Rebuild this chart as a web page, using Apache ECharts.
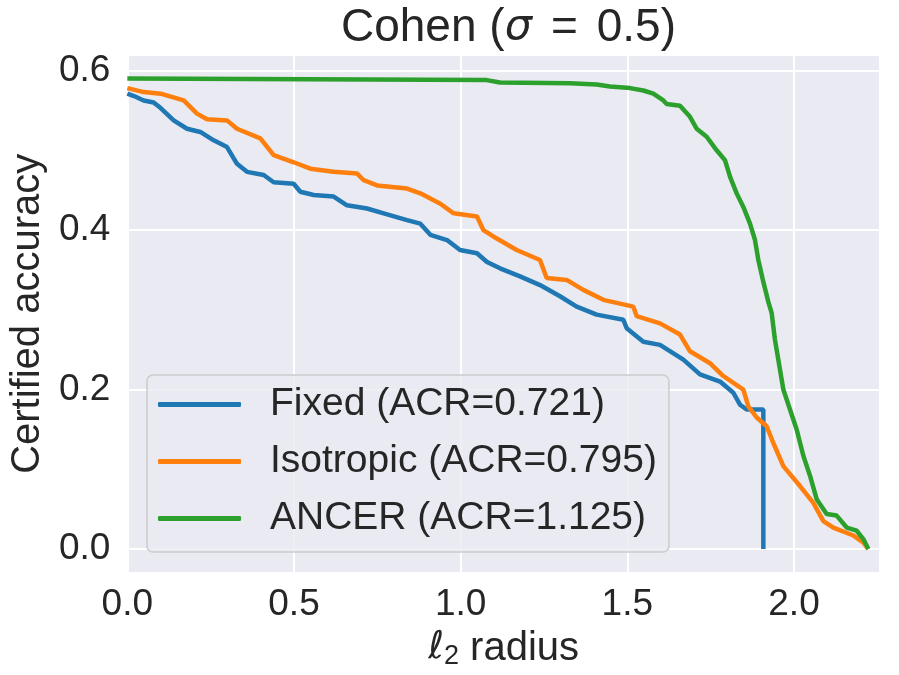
<!DOCTYPE html>
<html>
<head>
<meta charset="utf-8">
<script src="https://cdn.jsdelivr.net/npm/echarts@6.0.0/dist/echarts.min.js"></script>
<style>
  html, body { margin: 0; padding: 0; background: #fff; }
  #main { width: 899px; height: 675px; }
</style>
</head>
<body>
<div id="main"></div>
<script>
// certified accuracy vs l2 radius
var seriesNames = ['Fixed (ACR=0.721)', 'Isotropic (ACR=0.795)', 'ANCER (ACR=1.125)']

var fixedX = [0, 0.02, 0.049, 0.079, 0.10, 0.139, 0.179, 0.219, 0.259, 0.299, 0.329, 0.359, 0.409, 0.439, 0.499, 0.519, 0.559, 0.619, 0.659, 0.719, 0.769, 0.839, 0.879, 0.909, 0.959, 0.998, 1.049, 1.079, 1.118, 1.178, 1.238, 1.298, 1.348, 1.408, 1.488, 1.498, 1.548, 1.598, 1.668, 1.718, 1.778, 1.818, 1.838, 1.858, 1.908, 1.908]
var fixedY = [0.571, 0.568, 0.5625, 0.560, 0.553, 0.5375, 0.527, 0.523, 0.5125, 0.504, 0.483, 0.473, 0.469, 0.46, 0.458, 0.448, 0.444, 0.442, 0.431, 0.427, 0.421, 0.4125, 0.408, 0.394, 0.3875, 0.375, 0.371, 0.360, 0.352, 0.342, 0.331, 0.317, 0.304, 0.294, 0.2875, 0.277, 0.260, 0.256, 0.2375, 0.219, 0.210, 0.196, 0.181, 0.175, 0.175, 0]

var isoX = [0, 0.049, 0.10, 0.169, 0.209, 0.239, 0.299, 0.329, 0.399, 0.439, 0.499, 0.549, 0.619, 0.689, 0.709, 0.749, 0.839, 0.879, 0.939, 0.979, 1.049, 1.068, 1.098, 1.168, 1.238, 1.258, 1.318, 1.368, 1.428, 1.518, 1.528, 1.598, 1.658, 1.688, 1.748, 1.788, 1.848, 1.863, 1.888, 1.918, 1.938, 1.968, 2.018, 2.058, 2.088, 2.118, 2.178, 2.208, 2.223]
var isoY = [0.578, 0.573, 0.571, 0.5625, 0.546, 0.539, 0.5375, 0.527, 0.515, 0.494, 0.485, 0.477, 0.473, 0.471, 0.4625, 0.456, 0.452, 0.446, 0.433, 0.421, 0.417, 0.40, 0.392, 0.375, 0.3625, 0.34, 0.3375, 0.325, 0.3125, 0.304, 0.292, 0.283, 0.269, 0.248, 0.233, 0.217, 0.2, 0.179, 0.165, 0.154, 0.133, 0.104, 0.079, 0.058, 0.035, 0.027, 0.017, 0.008, 0.0]

var ancerX = [0, 1.078, 1.118, 1.328, 1.408, 1.448, 1.508, 1.548, 1.578, 1.608, 1.618, 1.658, 1.688, 1.708, 1.738, 1.768, 1.793, 1.808, 1.828, 1.848, 1.868, 1.883, 1.893, 1.908, 1.923, 1.933, 1.943, 1.958, 1.968, 1.988, 2.008, 2.028, 2.048, 2.068, 2.098, 2.128, 2.158, 2.188, 2.208, 2.223]
var ancerY = [0.590, 0.588, 0.585, 0.584, 0.5825, 0.580, 0.578, 0.575, 0.571, 0.5625, 0.558, 0.556, 0.542, 0.527, 0.517, 0.5, 0.4875, 0.467, 0.446, 0.429, 0.408, 0.3875, 0.3625, 0.335, 0.31, 0.296, 0.262, 0.225, 0.2, 0.175, 0.15, 0.117, 0.092, 0.0625, 0.044, 0.042, 0.027, 0.023, 0.0125, 0.0]

var xTicks = [0, 0.5, 1.0, 1.5, 2.0]
var yTicks = [0, 0.2, 0.4, 0.6]

var colors = ['#1f77b4', '#ff7f0e', '#2ca02c']
var font = 'Liberation Sans, Arial, sans-serif'
var ink = '#262626'

function pairs(xs, ys) {
  return xs.map(function (x, i) { return [x, ys[i]] })
}

function isTick(list, v) {
  return list.some(function (t) { return Math.abs(t - v) < 1e-6 })
}

var chart = echarts.init(document.getElementById('main'), null, { renderer: 'canvas' })

var option = {
  backgroundColor: '#ffffff',
  animation: false,
  color: colors,
  title: {
    text: 'Cohen ({i|σ}{e|=}0.5)',
    left: 503.5,
    top: 0,
    textAlign: 'center',
    textStyle: {
      fontFamily: font,
      fontSize: 46,
      fontWeight: 'normal',
      color: ink,
      rich: {
        i: { fontFamily: 'DejaVu Sans', fontStyle: 'italic', fontSize: 43, color: ink },
        e: { fontFamily: font, fontSize: 46, color: ink, padding: [0, 19, 0, 19] },
      },
    },
  },
  grid: {
    left: 127,
    right: 19,
    top: 55,
    bottom: 102,
    show: true,
    backgroundColor: '#EAEAF2',
    borderWidth: 0,
  },
  legend: {
    data: seriesNames,
    orient: 'vertical',
    left: 147,
    top: 375,
    padding: [10, 12, 14, 11],
    itemWidth: 83,
    itemHeight: 5,
    itemGap: 18,
    icon: 'roundRect',
    backgroundColor: 'rgba(234,234,242,0.8)',
    borderColor: '#cccccc',
    borderWidth: 1.5,
    borderRadius: 6,
    textStyle: {
      fontFamily: font,
      fontSize: 39,
      color: ink,
      padding: [0, 0, 0, 24],
    },
  },
  xAxis: {
    type: 'value',
    min: 0,
    max: 2.258,
    interval: 0.5,
    name: '{l|ℓ}{s|2} radius',
    nameLocation: 'middle',
    nameGap: 50,
    nameTextStyle: {
      fontFamily: font,
      fontSize: 40,
      color: ink,
      rich: {
        l: { fontFamily: 'DejaVu Sans', fontStyle: 'italic', fontSize: 38, color: ink },
        s: { fontFamily: font, fontSize: 27, color: ink, padding: [16, 0, 0, 0] },
      },
    },
    axisLine: { show: false },
    axisTick: { show: false },
    axisLabel: {
      fontFamily: font,
      fontSize: 37,
      color: ink,
      margin: 14,
      showMaxLabel: false,
      formatter: function (v) { return isTick(xTicks, v) ? v.toFixed(1) : '' },
    },
    splitLine: { lineStyle: { color: '#ffffff', width: 2 } },
  },
  yAxis: {
    type: 'value',
    min: -0.0295,
    max: 0.6195,
    minInterval: 0.2,
    maxInterval: 0.2,
    name: 'Certified accuracy',
    nameLocation: 'middle',
    nameGap: 76,
    nameTextStyle: { fontFamily: font, fontSize: 40, color: ink },
    axisLine: { show: false },
    axisTick: { show: false },
    axisLabel: {
      fontFamily: font,
      fontSize: 37,
      color: ink,
      margin: 17,
      formatter: function (v) { return isTick(yTicks, v) ? v.toFixed(1) : '' },
    },
    splitLine: { lineStyle: { color: '#ffffff', width: 2 } },
  },
  series: [
    { name: seriesNames[0], type: 'line', data: pairs(fixedX, fixedY) },
    { name: seriesNames[1], type: 'line', data: pairs(isoX, isoY) },
    { name: seriesNames[2], type: 'line', data: pairs(ancerX, ancerY) },
  ].map(function (s) {
    s.symbol = 'none'
    s.lineStyle = { width: 4.5 }
    return s
  }),
}

chart.setOption(option)
</script>
</body>
</html>
